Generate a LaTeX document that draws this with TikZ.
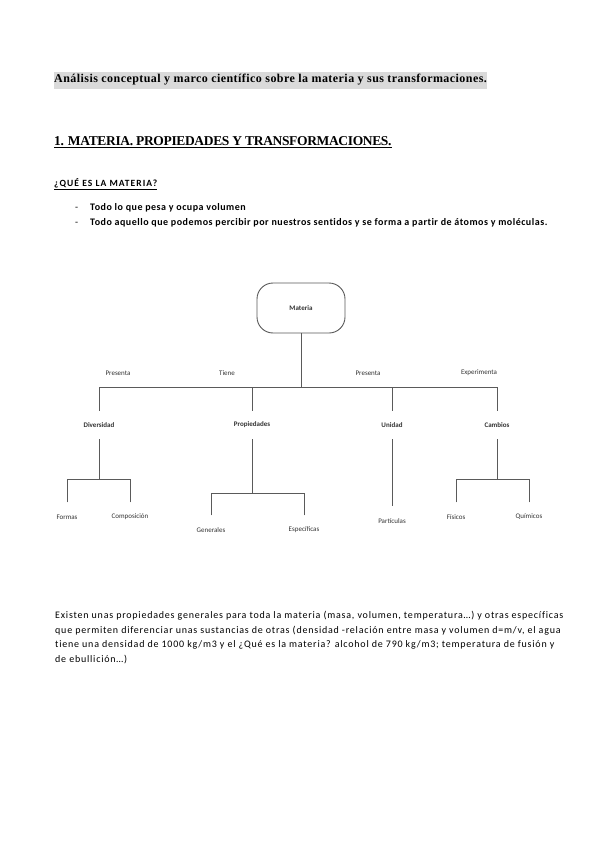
\documentclass[tikz,border=0pt]{standalone}
\usepackage{fontspec}
\setmainfont{Carlito}
\newfontfamily\titlefont[LetterSpace=3.7]{Liberation Serif}
\newfontfamily\headfont[LetterSpace=-2.6]{Liberation Serif}
\newfontfamily\capsfont[LetterSpace=11, Ligatures=CommonOff]{Carlito}
\newfontfamily\itemfont[LetterSpace=5, Ligatures=CommonOff]{Carlito}
\newfontfamily\spacedfont[LetterSpace=7.8, Ligatures=CommonOff]{Carlito}
\newfontfamily\diagfont{Carlito}
\definecolor{linegray}{HTML}{5A5A5A}
\definecolor{textgray}{HTML}{333333}
\definecolor{hilite}{HTML}{DADADA}
\tikzset{
  pagetext/.style={anchor=base west, inner sep=0pt, text=black},
  concept/.style={draw=linegray, line width=0.9pt, rounded corners=16pt,
    minimum width=88pt, minimum height=50pt, font=\diagfont\bfseries\fontsize{7}{8}\selectfont, text=textgray},
  relation/.style={font=\diagfont\fontsize{7}{8}\selectfont, text=textgray, inner sep=0pt},
  branch/.style={font=\diagfont\bfseries\fontsize{7}{8}\selectfont, text=textgray, minimum height=28pt, inner sep=0pt},
  leaf/.style={font=\diagfont\fontsize{7}{8}\selectfont, text=textgray, minimum height=29pt, inner sep=0pt},
  link/.style={draw=linegray, line width=0.9pt}
}
\begin{document}
\begin{tikzpicture}[x=1pt,y=-1pt]
  \useasboundingbox[fill=white] (0,0) rectangle (599,848);
  % page header
  \node[pagetext, fill=hilite, inner ysep=3pt] (title) at (54,83)
    {\titlefont\bfseries\fontsize{12}{14}\selectfont Análisis conceptual y marco científico sobre la materia y sus transformaciones.};
  \node[pagetext] (heading) at (54,146)
    {\headfont\bfseries\fontsize{13.5}{16}\selectfont\underline{1. MATERIA. PROPIEDADES Y TRANSFORMACIONES.}};
  \node[pagetext] (question) at (54,186)
    {\capsfont\bfseries\fontsize{9.5}{11}\selectfont\underline{¿QUÉ ES LA MATERIA?}};
  \draw
    (75,210) node[pagetext] (dash1){\fontsize{10}{12}\selectfont -}
    (90,210) node[pagetext] (item1){\itemfont\bfseries\fontsize{10}{12}\selectfont Todo lo que pesa y ocupa volumen}
    (75,225) node[pagetext] (dash2){\fontsize{10}{12}\selectfont -}
    (90,225) node[pagetext] (item2){\itemfont\bfseries\fontsize{10}{12}\selectfont Todo aquello que podemos percibir por nuestros sentidos y se forma a partir de átomos y moléculas.};

  % concept map
  \node[concept] (materia) at (301,308) {Materia};
  \draw
    (118,373) node[relation] (rel1){Presenta}
    (227,373) node[relation] (rel2){Tiene}
    (368,373) node[relation] (rel3){Presenta}
    (479,373) node[relation] (rel4){Experimenta};
  \draw
    (99,425) node[branch] (diversidad){Diversidad}
    (252,425) node[branch] (propiedades){Propiedades}
    (392,425) node[branch] (unidad){Unidad}
    (497,425) node[branch] (cambios){Cambios};
  \draw
    (67,517) node[leaf] (formas){Formas}
    (130,517) node[leaf] (composicion){Composición}
    (211,530) node[leaf] (generales){Generales}
    (304,530) node[leaf] (especificas){Específicas}
    (392,521) node[leaf] (particulas){Partículas}
    (456,517) node[leaf] (fisicos){Físicos}
    (529,517) node[leaf] (quimicos){Químicos};
  \coordinate (hub) at (301,387);
  \coordinate (divhub) at (99,479);
  \coordinate (prophub) at (252,493);
  \coordinate (camhub) at (497,479);
  \begin{scope}[link]
    \draw (materia) -- (hub);
    \draw (diversidad) |- (hub);
    \draw (propiedades) |- (hub);
    \draw (unidad) |- (hub);
    \draw (cambios) |- (hub);
    \draw (diversidad) -- (divhub);
    \draw (formas) |- (divhub);
    \draw (composicion) |- (divhub);
    \draw (propiedades) -- (prophub);
    \draw (generales) |- (prophub);
    \draw (especificas) |- (prophub);
    \draw (unidad) -- (particulas);
    \draw (cambios) -- (camhub);
    \draw (fisicos) |- (camhub);
    \draw (quimicos) |- (camhub);
  \end{scope}

  % closing paragraph
  \draw
    (55,618) node[pagetext] (line1){\spacedfont\fontsize{10}{12}\selectfont Existen unas propiedades generales para toda la materia (masa, volumen, temperatura…) y otras específicas}
    (55,633) node[pagetext] (line2){\spacedfont\fontsize{10}{12}\selectfont que permiten diferenciar unas sustancias de otras (densidad -relación entre masa y volumen d=m/v, el agua}
    (55,647) node[pagetext] (line3){\spacedfont\fontsize{10}{12}\selectfont tiene una densidad de 1000 kg/m3 y el ¿Qué es la materia? alcohol de 790 kg/m3; temperatura de fusión y}
    (55,662) node[pagetext] (line4){\spacedfont\fontsize{10}{12}\selectfont de ebullición…)};
\end{tikzpicture}
\end{document}
